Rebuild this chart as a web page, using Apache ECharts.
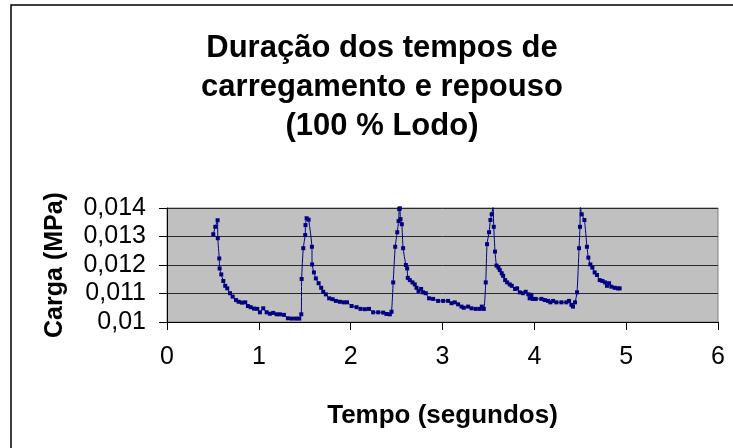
<!DOCTYPE html>
<html>
<head>
<meta charset="utf-8">
<script src="https://cdn.jsdelivr.net/npm/echarts@6/dist/echarts.min.js"></script>
<style>
	html, body { margin: 0; padding: 0; background: #fff; }
	#main { width: 733px; height: 448px; }
</style>
</head>
<body>
<div id="main"></div>
<script>
// tempo (s)
var tempo = [
	0.504, 0.526, 0.551, 0.553, 0.569, 0.573, 0.591, 0.613, 0.634, 0.656,
	0.686, 0.715, 0.751, 0.780, 0.816, 0.852, 0.881, 0.911, 0.947, 0.983,
	1.012, 1.048, 1.085, 1.121, 1.157, 1.194, 1.230, 1.273, 1.317, 1.360,
	1.404, 1.440, 1.462, 1.466, 1.484, 1.505, 1.508, 1.520, 1.542, 1.578,
	1.580, 1.600, 1.621, 1.651, 1.679, 1.701, 1.730, 1.766, 1.803, 1.839,
	1.883, 1.926, 1.960, 2.010, 2.064, 2.108, 2.155, 2.200, 2.245, 2.300,
	2.354, 2.390, 2.427, 2.445, 2.463, 2.485, 2.507, 2.522, 2.529, 2.535,
	2.543, 2.557, 2.571, 2.601, 2.615, 2.622, 2.644, 2.673, 2.698, 2.717,
	2.739, 2.767, 2.789, 2.818, 2.854, 2.898, 2.952, 3.007, 3.061, 3.098,
	3.134, 3.170, 3.207, 3.232, 3.279, 3.316, 3.362, 3.406, 3.428, 3.450,
	3.471, 3.485, 3.507, 3.522, 3.536, 3.551, 3.558, 3.572, 3.588, 3.609,
	3.624, 3.645, 3.660, 3.682, 3.704, 3.732, 3.754, 3.790, 3.812, 3.841,
	3.877, 3.906, 3.935, 3.949, 3.968, 3.985, 4.015, 4.077, 4.113, 4.149,
	4.175, 4.204, 4.240, 4.295, 4.349, 4.378, 4.404, 4.421, 4.443, 4.465,
	4.487, 4.497, 4.501, 4.516, 4.545, 4.573, 4.588, 4.610, 4.632, 4.657,
	4.682, 4.712, 4.741, 4.769, 4.791, 4.813, 4.839, 4.875, 4.911, 4.929
]
// carga (MPa)
var carga = [
	0.01308, 0.01334, 0.01357, 0.01294, 0.01223, 0.01188, 0.01167, 0.01144, 0.01127, 0.01118,
	0.01101, 0.01089, 0.01077, 0.01071, 0.01068, 0.01069, 0.01056, 0.01052, 0.01047, 0.01046,
	0.01034, 0.01048, 0.01034, 0.01029, 0.01032, 0.01027, 0.01027, 0.01025, 0.01013, 0.01012,
	0.01012, 0.01012, 0.01027, 0.01151, 0.01259, 0.01305, 0.01340, 0.01364, 0.01359, 0.01264,
	0.01202, 0.01174, 0.01153, 0.01136, 0.01120, 0.01106, 0.01097, 0.01083, 0.01080, 0.01074,
	0.01071, 0.01069, 0.01069, 0.01056, 0.01052, 0.01046, 0.01045, 0.01046, 0.01034, 0.01034,
	0.01033, 0.01028, 0.01027, 0.01036, 0.01139, 0.01264, 0.01315, 0.01354, 0.01396, 0.01399,
	0.01361, 0.01343, 0.01259, 0.01200, 0.01188, 0.01155, 0.01147, 0.01139, 0.01132, 0.01120,
	0.01109, 0.01116, 0.01104, 0.01101, 0.01083, 0.01081, 0.01074, 0.01074, 0.01074, 0.01066,
	0.01069, 0.01062, 0.01054, 0.01050, 0.01054, 0.01048, 0.01046, 0.01046, 0.01054, 0.01046,
	0.01139, 0.01273, 0.01315, 0.01358, 0.01378, 0.01404, 0.01334, 0.01247, 0.01198, 0.01191,
	0.01182, 0.01171, 0.01162, 0.01147, 0.01139, 0.01132, 0.01127, 0.01116, 0.01118, 0.01104,
	0.01101, 0.01106, 0.01097, 0.01083, 0.01095, 0.01081, 0.01081, 0.01081, 0.01077, 0.01074,
	0.01069, 0.01074, 0.01069, 0.01069, 0.01069, 0.01074, 0.01060, 0.01054, 0.01069, 0.01104,
	0.01259, 0.01334, 0.01404, 0.01378, 0.01358, 0.01264, 0.01226, 0.01202, 0.01191, 0.01174,
	0.01165, 0.01147, 0.01144, 0.01139, 0.01127, 0.01136, 0.01124, 0.01120, 0.01118, 0.01118
]
var yTickLabels = ['0,01', '0,011', '0,012', '0,013', '0,014']
var xTickLabels = ['0', '1', '2', '3', '4', '5', '6']

var pontos = tempo.map(function (t, i) { return [t, carga[i]] })
var fonte = 'Arial, "Liberation Sans", sans-serif'

var myChart = echarts.init(document.getElementById('main'))
myChart.setOption({
	animation: false,
	backgroundColor: '#fff',
	title: {
		text: 'Duração dos tempos de\ncarregamento e repouso\n(100 % Lodo)',
		left: 377,
		top: 24,
		textAlign: 'center',
		textStyle: {
			fontFamily: fonte,
			fontSize: 31,
			fontWeight: 'bold',
			color: '#000',
			lineHeight: 39
		}
	},
	graphic: [{
		// moldura do gráfico (só esquerda e topo visíveis)
		type: 'rect',
		shape: { x: 11, y: 5, width: 800, height: 600 },
		style: { fill: 'none', stroke: '#000', lineWidth: 1.5 },
		silent: true
	}],
	grid: {
		left: 167,
		right: 15,
		top: 208,
		bottom: 126,
		show: true,
		backgroundColor: '#c0c0c0',
		borderColor: '#808080',
		borderWidth: 1
	},
	xAxis: {
		type: 'value',
		min: 0,
		max: 6,
		interval: 1,
		name: 'Tempo (segundos)',
		nameLocation: 'middle',
		nameGap: 81,
		nameTextStyle: { fontFamily: fonte, fontSize: 26, fontWeight: 'bold', color: '#000' },
		axisLine: { show: true, onZero: false, lineStyle: { color: '#000', width: 1 } },
		axisTick: { show: true, length: 8, lineStyle: { color: '#000' } },
		axisLabel: {
			margin: 23,
			fontFamily: fonte,
			fontSize: 25,
			color: '#000',
			formatter: function (v) { return xTickLabels[Math.round(v)] }
		},
		splitLine: { show: false }
	},
	yAxis: {
		type: 'value',
		min: 0.010,
		max: 0.014,
		interval: 0.001,
		name: 'Carga (MPa)',
		nameLocation: 'middle',
		nameGap: 99,
		nameTextStyle: { fontFamily: fonte, fontSize: 25, fontWeight: 'bold', color: '#000' },
		axisLine: { show: true, lineStyle: { color: '#000', width: 1 } },
		axisTick: { show: true, length: 8, lineStyle: { color: '#000' } },
		axisLabel: {
			margin: 21,
			fontFamily: fonte,
			fontSize: 25,
			color: '#000',
			formatter: function (v) { return yTickLabels[Math.round((v - 0.01) * 1000)] }
		},
		splitLine: { show: true, lineStyle: { color: '#2a2a2a', width: 1 } }
	},
	series: [{
		type: 'line',
		data: pontos,
		smooth: 0.2,
		symbol: 'rect',
		symbolSize: 4,
		showAllSymbol: true,
		lineStyle: { color: '#000080', width: 1 },
		itemStyle: { color: '#000080' }
	}]
})
</script>
</body>
</html>
